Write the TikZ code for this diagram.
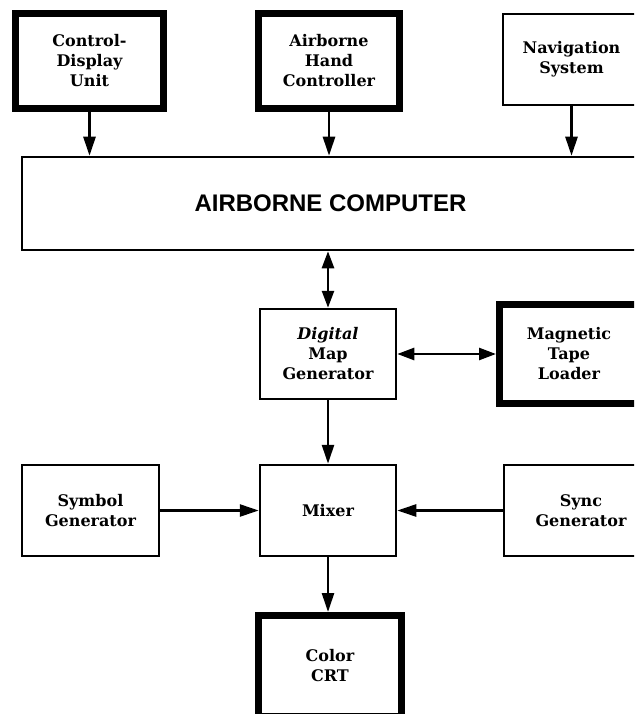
\documentclass[tikz,border=0pt]{standalone}
\usepackage{fontspec}
\newfontfamily\blockfont{DejaVu Serif}
\newfontfamily\titlefont{Liberation Sans}
\usetikzlibrary{arrows.meta}

\begin{document}
\begin{tikzpicture}[
  x=1pt,
  y=-1pt,
  block/.style={
    draw,
    line width=2.5pt,
    inner sep=0pt,
    align=center,
    font=\blockfont\bfseries\fontsize{16}{20}\selectfont
  },
  heavy/.style={
    block,
    line width=7pt
  },
  edge/.style={
    -{Triangle[length=19pt,width=12pt]},
    line width=2.6pt
  },
  twoway/.style={
    {Triangle[length=17pt,width=12pt]}-{Triangle[length=17pt,width=12pt]},
    line width=2.6pt
  }
]

\clip (0,0) rectangle (634,714);

% inputs
\node[heavy, minimum width=148pt, minimum height=95pt] (cdu) at (89.5,61)
  {Control-\\Display\\Unit};
\node[heavy, minimum width=141pt, minimum height=95pt] (ahc) at (329,61)
  {Airborne\\Hand\\Controller};
\node[block, minimum width=137pt, minimum height=91pt] (nav) at (571.5,59.5)
  {Navigation\\System};

\node[block, minimum width=617pt, minimum height=93pt,
  font=\titlefont\bfseries\fontsize{24}{28}\selectfont] (comp) at (330.5,203.5)
  {AIRBORNE COMPUTER};

% map path
\node[block, minimum width=136pt, minimum height=90pt] (dmg) at (328,354)
  {\itshape Digital\\Map\\Generator};
\node[heavy, minimum width=139pt, minimum height=99pt] (mtl) at (569,354)
  {Magnetic\\Tape\\Loader};

\node[block, minimum width=137pt, minimum height=91pt] (sg) at (90.5,510.5)
  {Symbol\\Generator};
\node[block, minimum width=136pt, minimum height=91pt] (mix) at (328,510.5)
  {Mixer};
\node[block, minimum width=154pt, minimum height=91pt] (sync) at (581,510.5)
  {Sync\\Generator};

\node[heavy, minimum width=143pt, minimum height=101pt] (crt) at (330,666)
  {Color\\CRT};

\draw[edge] (cdu.south) -- (cdu.south |- comp.north);
\draw[edge] (ahc.south) -- (ahc.south |- comp.north);
\draw[edge] (nav.south) -- (nav.south |- comp.north);
\draw[twoway] (dmg.north |- comp.south) -- (dmg.north);
\draw[twoway] (dmg.east) -- (mtl.west);
\draw[edge] (dmg.south) -- (mix.north);
\draw[edge] (sg.east) -- (mix.west);
\draw[edge] (sync.west) -- (mix.east);
\draw[edge] (mix.south) -- (mix.south |- crt.north);

\end{tikzpicture}
\end{document}
